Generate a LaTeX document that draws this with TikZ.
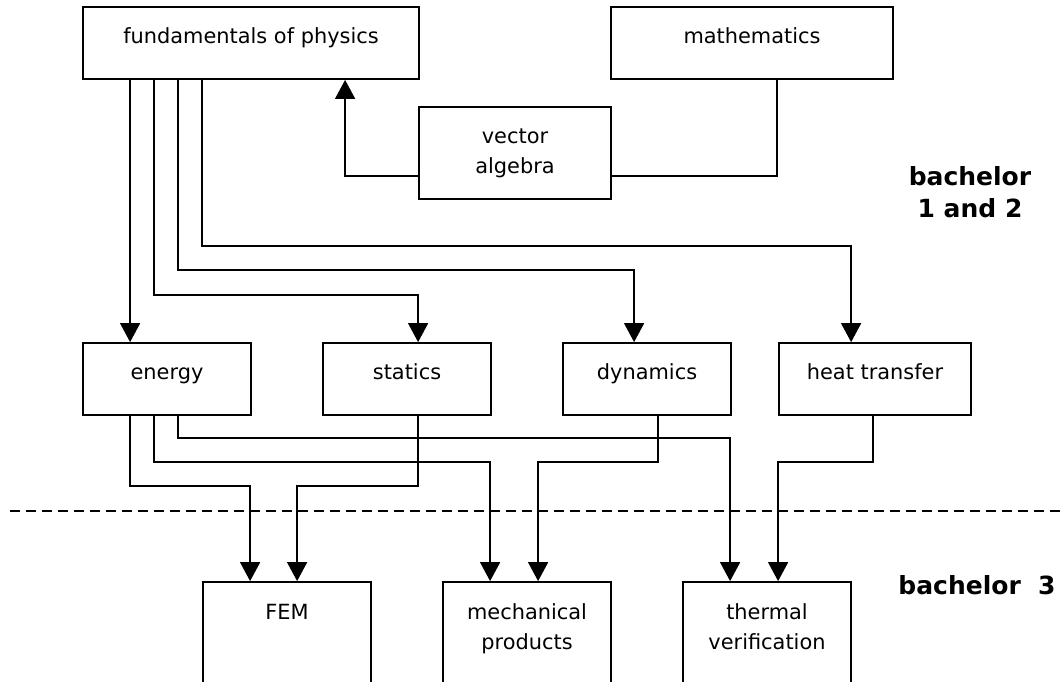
\documentclass[tikz,border=0pt]{standalone}
\usepackage{fontspec}
\setmainfont{DejaVu Sans}
\usetikzlibrary{arrows.meta,calc}
\begin{document}
\begin{tikzpicture}[x=1pt,y=-1pt,
  box/.style={draw, line width=1.8pt, fill=white, inner sep=0pt,
    minimum width=168pt, minimum height=72pt,
    text height=36pt, text depth=36pt,
    font=\fontsize{20.9}{30}\selectfont},
  lowbox/.style={box, minimum height=138pt, text height=37pt, text depth=101pt},
  lab/.style={inner sep=0pt, font=\bfseries\fontsize{25}{32}\selectfont},
  conn/.style={line width=1.6pt},
  arr/.style={conn, -{Triangle[length=19pt,width=20pt]}},
  sep/.style={line width=1.8pt, dash pattern=on 10pt off 6pt}
]
\useasboundingbox (0,0) rectangle (1062,681);
\clip (0,0) rectangle (1062,681);

% dashed separator
\coordinate (dl) at (10,511);
\coordinate (dr) at (1062,511);
\draw[sep] (dl) -- (dr);

% boxes
\node[box, minimum width=336pt] (fund) at (251,43) {fundamentals of physics};
\node[box, minimum width=282pt] (math) at (752,43) {mathematics};
\node[box, minimum width=192pt, minimum height=92pt, text depth=56pt] (vec) at (515,153)
  {\begin{tabular}[t]{@{}c@{}}vector\\algebra\end{tabular}};
\node[box] (en) at (167,379) {energy};
\node[box] (st) at (407,379) {statics};
\node[box] (dy) at (647,379) {dynamics};
\node[box, minimum width=192pt] (ht) at (875,379) {heat transfer};
\node[lowbox] (fem) at (287,651) {FEM};
\node[lowbox] (mech) at (527,651)
  {\begin{tabular}[t]{@{}c@{}}mechanical\\products\end{tabular}};
\node[lowbox] (th) at (767,651)
  {\begin{tabular}[t]{@{}c@{}}thermal\\verification\end{tabular}};

% labels
\node[lab, anchor=base] (b12) at (970,185)
  {\begin{tabular}[t]{@{}c@{}}bachelor\\1 and 2\end{tabular}};
\node[lab, anchor=base] (b3) at (977,594) {bachelor~~3};

% connection points
\coordinate (f1) at ($(fund.south west)+(48,0)$);
\coordinate (f2) at ($(fund.south west)+(72,0)$);
\coordinate (f3) at ($(fund.south west)+(96,0)$);
\coordinate (f4) at ($(fund.south west)+(120,0)$);
\coordinate (fin) at ($(fund.south west)+(263,0)$);
\coordinate (min) at ($(math.south west)+(167,0)$);
\coordinate (vl) at ($(vec.south west)+(0,-24)$);
\coordinate (vr) at ($(vec.south east)+(0,-24)$);
\coordinate (sin) at ($(st.north west)+(96,0)$);
\coordinate (din) at ($(dy.north west)+(72,0)$);
\coordinate (hin) at ($(ht.north west)+(73,0)$);
\coordinate (e1) at ($(en.south west)+(48,0)$);
\coordinate (e2) at ($(en.south west)+(72,0)$);
\coordinate (e3) at ($(en.south west)+(96,0)$);
\coordinate (sout) at ($(st.south west)+(96,0)$);
\coordinate (dout) at ($(dy.south west)+(96,0)$);
\coordinate (hout) at ($(ht.south west)+(95,0)$);
\coordinate (fa) at ($(fem.north west)+(48,0)$);
\coordinate (fb) at ($(fem.north west)+(95,0)$);
\coordinate (ma) at ($(mech.north west)+(48,0)$);
\coordinate (mb) at ($(mech.north west)+(96,0)$);
\coordinate (ta) at ($(th.north west)+(48,0)$);
\coordinate (tb) at ($(th.north west)+(96,0)$);

% top connectors
\draw[arr] (vl) -| (fin);
\draw[conn] (vr) -| (min);
\draw[arr] (f1) -- (f1 |- en.north);
\draw[arr] (f2) |- ($(sin)+(0,-47)$) -- (sin);
\draw[arr] (f3) |- ($(din)+(0,-72)$) -- (din);
\draw[arr] (f4) |- ($(hin)+(0,-96)$) -- (hin);

% bottom connectors
\draw[arr] (e1) |- ($(fa)+(0,-95)$) -- (fa);
\draw[arr] (sout) |- ($(fb)+(0,-95)$) -- (fb);
\draw[arr] (e2) |- ($(ma)+(0,-119)$) -- (ma);
\draw[arr] (dout) |- ($(mb)+(0,-119)$) -- (mb);
\draw[arr] (e3) |- ($(ta)+(0,-143)$) -- (ta);
\draw[arr] (hout) |- ($(tb)+(0,-119)$) -- (tb);
\end{tikzpicture}
\end{document}
